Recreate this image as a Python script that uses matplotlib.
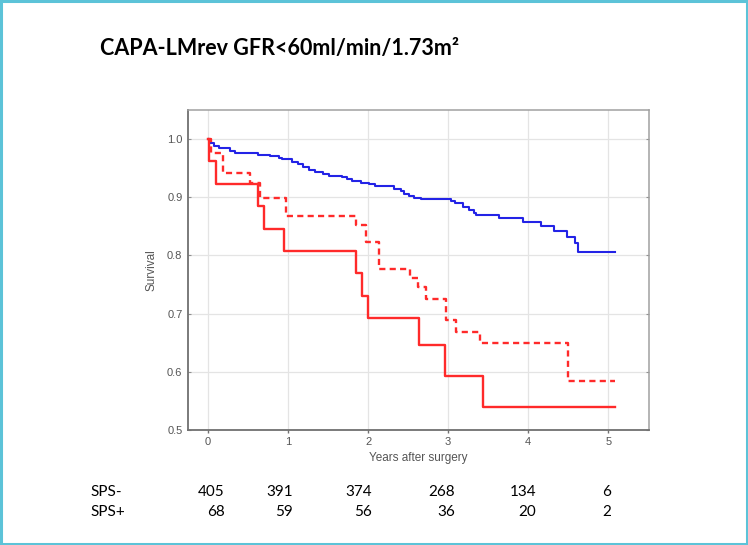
import matplotlib.pyplot as plt
from matplotlib.patches import Rectangle
from matplotlib.transforms import blended_transform_factory

# Kaplan-Meier steps (time in years, survival)
sps_neg_t = [0, 0.03, 0.07, 0.14, 0.28, 0.34, 0.62, 0.77, 0.89, 0.92, 1.05, 1.12, 1.19,
             1.26, 1.34, 1.44, 1.51, 1.68, 1.74, 1.80, 1.91, 2.01, 2.09, 2.33, 2.41, 2.45,
             2.51, 2.57, 2.66, 3.03, 3.09, 3.18, 3.26, 3.32, 3.35, 3.64, 3.93, 4.16, 4.32,
             4.49, 4.58, 4.62, 5.08]
sps_neg_s = [1.0, 0.993, 0.988, 0.984, 0.980, 0.976, 0.9735, 0.971, 0.968, 0.965, 0.961,
             0.957, 0.952, 0.947, 0.943, 0.940, 0.937, 0.934, 0.931, 0.928, 0.925, 0.923,
             0.920, 0.915, 0.911, 0.906, 0.902, 0.899, 0.897, 0.894, 0.890, 0.883, 0.878,
             0.873, 0.870, 0.865, 0.858, 0.851, 0.842, 0.832, 0.821, 0.806, 0.806]

sps_pos_t = [0, 0.01, 0.10, 0.63, 0.70, 0.95, 1.85, 1.92, 2.00, 2.63, 2.96, 3.43, 5.08]
sps_pos_s = [1.0, 0.962, 0.923, 0.885, 0.846, 0.808, 0.769, 0.731, 0.693, 0.646, 0.593,
             0.540, 0.540]

dashed_t = [0, 0.04, 0.19, 0.52, 0.65, 0.97, 1.85, 1.98, 2.14, 2.53, 2.62, 2.72, 2.97,
            3.10, 3.40, 4.50, 5.08]
dashed_s = [1.0, 0.976, 0.942, 0.925, 0.898, 0.867, 0.852, 0.823, 0.777, 0.762, 0.745,
            0.726, 0.689, 0.669, 0.650, 0.585, 0.585]

# numbers at risk
risk_neg = [405, 391, 374, 268, 134, 6]
risk_pos = [68, 59, 56, 36, 20, 2]
risk_x = [0.21, 1.06, 2.05, 3.09, 4.10, 5.04]  # right edge of each number, in years

fig = plt.figure(figsize=(7.48, 5.45), dpi=100)
ax = fig.add_axes([188 / 748, 1 - 430 / 545, (649 - 188) / 748, (430 - 110) / 545])

ax.plot(sps_neg_t, sps_neg_s, drawstyle='steps-post', color='#2323e6', lw=1.5)
ax.plot(dashed_t, dashed_s, drawstyle='steps-post', color='#ff2a2a', lw=1.7,
        linestyle=(0, (2.6, 1.8)))
ax.plot(sps_pos_t, sps_pos_s, drawstyle='steps-post', color='#ff2a2a', lw=1.7)

ax.set_xlim(-0.25, 5.51)
ax.set_ylim(0.5, 1.05)
ax.set_xticks(range(6))
ax.set_yticks([0.5, 0.6, 0.7, 0.8, 0.9, 1.0])
ax.set_yticklabels(['0.5', '0.6', '0.7', '0.8', '0.9', '1.0'])
ax.grid(True, color='#e4e4e4', lw=0.9)
ax.set_axisbelow(True)

for side in ['left', 'bottom']:
    ax.spines[side].set_color('#707070')
    ax.spines[side].set_linewidth(1.3)
for side in ['top', 'right']:
    ax.spines[side].set_color('#a0a0a0')
    ax.spines[side].set_linewidth(1.1)

ax.tick_params(axis='x', length=2, width=1, color='#707070', pad=3,
               labelsize=8, labelcolor='#555555')
ax.tick_params(axis='y', length=0, pad=4, labelsize=8, labelcolor='#555555')
ax.tick_params(axis='y', which='both', right=True, direction='in', length=2,
               color='#909090')
for lab in ax.get_xticklabels() + ax.get_yticklabels():
    lab.set_family('Liberation Sans')

ax.set_xlabel('Years after surgery', fontsize=8.5, color='#555555',
              family='Liberation Sans', labelpad=4)
ax.set_ylabel('Survival', fontsize=8.5, color='#555555',
              family='Liberation Sans', labelpad=7)

fig.text(100 / 748, 1 - 48 / 545, 'CAPA-LMrev GFR<60ml/min/1.73m²',
         fontsize=15.5, fontweight='bold', family='Lato', ha='left', va='center')

# numbers-at-risk table
tr = blended_transform_factory(ax.transData, fig.transFigure)
y_neg = 1 - 492 / 545
y_pos = 1 - 512 / 545
fig.text(90 / 748, y_neg, 'SPS-', fontsize=11, family='Lato', va='center')
fig.text(90 / 748, y_pos, 'SPS+', fontsize=11, family='Lato', va='center')
for xr, n1, n2 in zip(risk_x, risk_neg, risk_pos):
    ax.text(xr, y_neg, str(n1), transform=tr, fontsize=11, family='Lato',
            ha='right', va='center', clip_on=False)
    ax.text(xr, y_pos, str(n2), transform=tr, fontsize=11, family='Lato',
            ha='right', va='center', clip_on=False)

# cyan frame around the picture
fig.patches.append(Rectangle((0.0015, 0.002), 0.997, 0.996, transform=fig.transFigure,
                             fill=False, edgecolor='#5cc3d8', lw=2.2))

fig.savefig('out.png', dpi=100)
